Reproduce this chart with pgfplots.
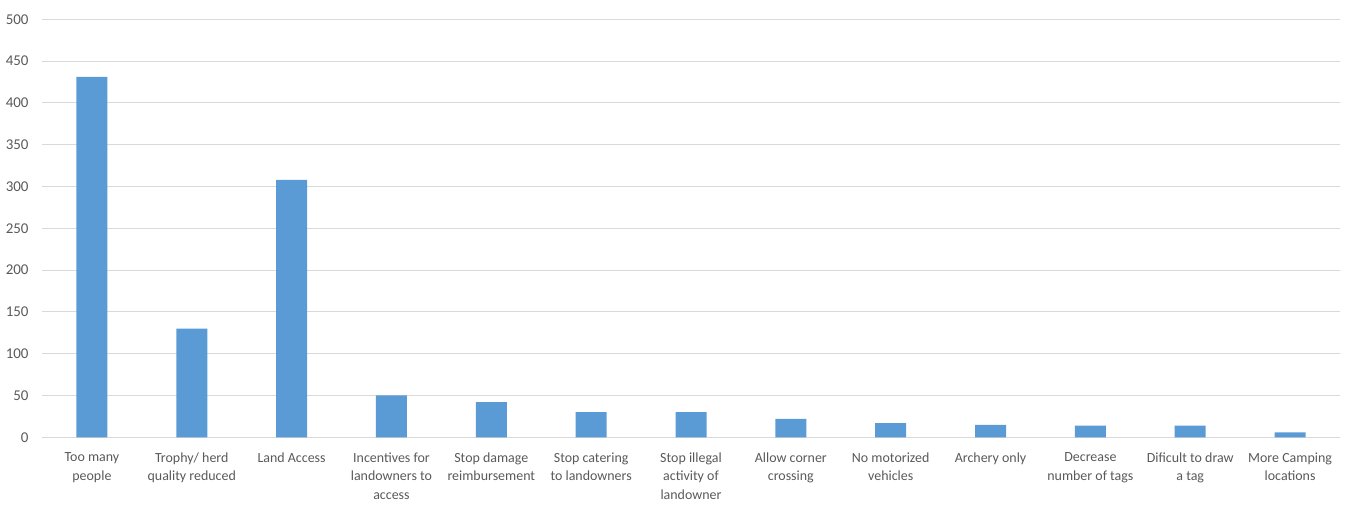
\documentclass[border=0pt]{standalone}
\usepackage{pgfplots}
\pgfplotsset{compat=1.18}
\usepackage{fontspec}
\setmainfont{Carlito}
\definecolor{barblue}{HTML}{5B9BD5}
\definecolor{gridgray}{HTML}{D9D9D9}
\definecolor{textgray}{HTML}{595959}
\begin{document}
\begin{tikzpicture}
\begin{axis}[
  at={(42bp,77.7bp)}, anchor=south west,
  scale only axis, width=1298bp, height=418bp,
  xmin=-0.5, xmax=12.5, ymin=0, ymax=500,
  ytick={0,50,...,500},
  xtick={0,...,12},
  xticklabels={{Too many\\people},{Trophy/ herd\\quality reduced},{Land Access},{Incentives for\\landowners to\\access},{Stop damage\\reimbursement},{Stop catering\\to landowners},{Stop illegal\\activity of\\landowner},{Allow corner\\crossing},{No motorized\\vehicles},{Archery only},{Decrease\\number of tags},{Dificult to draw\\a tag},{More Camping\\locations}},
  ymajorgrids, grid style={gridgray, line width=0.8bp},
  axis x line*=bottom, axis y line*=left,
  x axis line style={gridgray, line width=0.8bp, -},
  y axis line style={draw=none},
  major tick length=0,
  /pgf/number format/assume math mode=true,
  yticklabel style={font=\fontsize{15}{18}\selectfont, text=textgray, xshift=-10bp},
  xticklabel style={align=center, anchor=north, font=\fontsize{14}{18.5}\selectfont, text=textgray, yshift=-12bp},
  ybar, bar width=31bp,
]
\addplot[fill=barblue, draw=none] coordinates {(0,431) (1,130) (2,308) (3,50) (4,42) (5,30) (6,30) (7,22) (8,17) (9,15) (10,14) (11,14) (12,6)};
\end{axis}
\pgfresetboundingbox
\useasboundingbox (0,0) rectangle (1356bp,515bp);
\end{tikzpicture}
\end{document}
